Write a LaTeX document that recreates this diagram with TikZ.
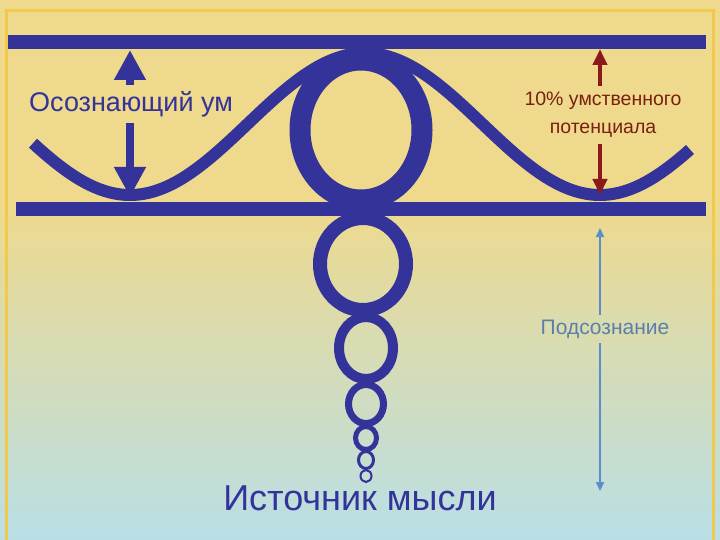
\documentclass[tikz,border=0pt]{standalone}
\usepackage{fontspec}
\setmainfont{Liberation Sans}
\usetikzlibrary{arrows.meta}
\definecolor{bg1}{HTML}{EFD98C}
\definecolor{bg2}{HTML}{B9DFE6}
\definecolor{navy}{HTML}{333399}
\definecolor{dred}{HTML}{8B1A1A}
\definecolor{tred}{HTML}{7A2010}
\definecolor{lblue}{HTML}{5B8DC8}
\definecolor{tblue}{HTML}{5A80AA}
\definecolor{gold}{HTML}{F2C94C}
\tikzset{ring/.style={draw=navy}, bar/.style={draw=navy,line width=14pt}}
\begin{document}
\begin{tikzpicture}[x=1pt,y=-1pt]
\useasboundingbox (0,0) rectangle (720,540);
\fill[bg1] (0,0) rectangle (720,200);
\shade[top color=bg1,bottom color=bg2] (0,199.5) rectangle (720,540);
\draw[gold,line width=3pt] (6,540) -- (6,11) -- (713,11) -- (713,540);
% bars
\coordinate (t1) at (8,42); \coordinate (t2) at (706,42);
\coordinate (b1) at (16,209); \coordinate (b2) at (706,209);
\draw[bar] (t1) -- (t2);
% wave
\draw[navy,line width=12pt] plot[domain=33:690,samples=120,smooth] (\x,{124-71*cos(0.765957*(\x-365))});
\draw[bar] (b1) -- (b2);
% rings
\draw[ring,line width=21pt] (361,130) ellipse (61 and 70);
\draw[ring,line width=14pt] (363,264) ellipse (43 and 46);
\draw[ring,line width=10pt] (366,348) ellipse (27 and 31);
\draw[ring,line width=7pt] (366,404) ellipse (17.5 and 19.5);
\draw[ring,line width=5pt] (366,438) ellipse (10.5 and 11.5);
\draw[ring,line width=3pt] (366,460) ellipse (7.5 and 8.5);
\draw[ring,line width=2pt] (366,476) ellipse (5.5 and 6);
% arrows
\coordinate (a1) at (130,50); \coordinate (a2) at (130,197);
\draw[navy,line width=8pt,{Triangle[length=30pt,width=30pt]}-{Triangle[length=30pt,width=30pt]}] (a1) -- (a2);
\coordinate (r1) at (600,49); \coordinate (r2) at (600,195);
\draw[dred,line width=4pt,{Triangle[length=16pt,width=14pt]}-{Triangle[length=16pt,width=14pt]}] (r1) -- (r2);
\coordinate (l1) at (600,228); \coordinate (l2) at (600,491);
\draw[lblue,line width=2pt,{Triangle[length=9pt,width=8pt]}-{Triangle[length=9pt,width=8pt]}] (l1) -- (l2);
% texts
\node[anchor=west,fill=bg1,inner xsep=0pt,inner ysep=6pt,font=\fontsize{27}{30}\selectfont,text=navy] (t_om) at (29,104) {Осознающий ум};
\node[align=center,fill=bg1,inner xsep=0pt,inner ysep=6pt,font=\fontsize{19.5}{28}\selectfont,text=tred] (t_10) at (603,115) {10\% умственного\\потенциала};
\node[fill=bg1!62!bg2,inner xsep=0pt,inner ysep=5pt,font=\fontsize{21}{24}\selectfont,text=tblue] (t_pod) at (605,329) {Подсознание};
\node[font=\fontsize{36}{40}\selectfont,text=navy] (t_ist) at (360,498) {Источник мысли};
\end{tikzpicture}
\end{document}
